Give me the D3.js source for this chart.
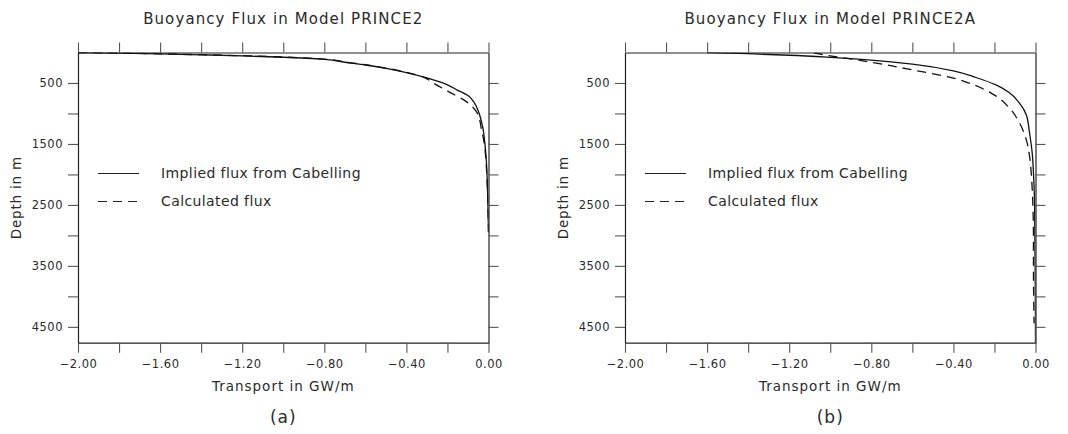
<!DOCTYPE html>
<html><head><meta charset="utf-8">
<script src="https://cdn.jsdelivr.net/npm/d3@7"></script>
<style>
html,body{margin:0;padding:0;background:#fff;}
svg{display:block;font-family:"DejaVu Sans",sans-serif;}
</style></head>
<body>
<svg id="chart" width="1068" height="434"></svg>
<script>
// ---- data ----
const panelTitles = ["Buoyancy Flux in Model PRINCE2", "Buoyancy Flux in Model PRINCE2A"];
const panelLetters = ["(a)", "(b)"];
const seriesNames = ["Implied flux from Cabelling", "Calculated flux"];

// Panel (a) PRINCE2
const p2ImpliedDepth = [0, 10, 22, 38, 55, 78, 112, 160, 205, 260, 330, 418, 530, 620, 705, 820, 960, 1230, 1510, 1800, 2100, 2500, 2950];
const p2ImpliedFlux  = [-2.0, -1.8, -1.6, -1.4, -1.2, -1.0, -0.8, -0.7, -0.6, -0.5, -0.4, -0.3, -0.2, -0.15, -0.1, -0.07, -0.05, -0.028, -0.017, -0.01, -0.006, -0.003, 0];
const p2CalcDepth = [0, 10, 22, 36, 52, 75, 108, 155, 200, 255, 325, 400, 500, 650, 790, 1010, 1230, 1510, 1800, 2100, 2500, 2950];
const p2CalcFlux  = [-2.0, -1.8, -1.6, -1.4, -1.2, -1.0, -0.8, -0.7, -0.6, -0.5, -0.4, -0.32, -0.27, -0.19, -0.115, -0.052, -0.036, -0.02, -0.012, -0.007, -0.003, 0];

// Panel (b) PRINCE2A
const p2aImpliedDepth = [0, 20, 45, 80, 125, 190, 300, 410, 535, 660, 830, 1020, 1320, 1650, 1970, 2400, 3000, 3500, 4000, 4760];
const p2aImpliedFlux  = [-1.6, -1.4, -1.2, -1.0, -0.8, -0.6, -0.4, -0.29, -0.19, -0.127, -0.078, -0.045, -0.029, -0.016, -0.01, -0.005, -0.003, -0.002, -0.001, 0];
const p2aCalcDepth = [5, 55, 105, 160, 285, 420, 545, 720, 910, 1155, 1430, 1700, 1970, 2400, 3000, 3500, 4000, 4440];
const p2aCalcFlux  = [-1.08, -1.0, -0.9, -0.8, -0.6, -0.4, -0.29, -0.19, -0.127, -0.078, -0.045, -0.029, -0.021, -0.014, -0.01, -0.01, -0.009, -0.007];

// axes
const xDomain = [-2.0, 0.0];
const yDomain = [0, 4760];
const xTickValues = [-2.0, -1.8, -1.6, -1.4, -1.2, -1.0, -0.8, -0.6, -0.4, -0.2, 0.0];
const xTickLabels = ["\u22122.00", "", "\u22121.60", "", "\u22121.20", "", "\u22120.80", "", "\u22120.40", "", "0.00"];
const yTickValues = [500, 1000, 1500, 2000, 2500, 3000, 3500, 4000, 4500];
const yTickLabels = ["500", "", "1500", "", "2500", "", "3500", "", "4500"];
const xAxisTitle = "Transport in GW/m";
const yAxisTitle = "Depth in m";

const panels = [
  {title: panelTitles[0], letter: panelLetters[0],
   series: [{depth: p2ImpliedDepth, flux: p2ImpliedFlux, dash: null},
            {depth: p2CalcDepth, flux: p2CalcFlux, dash: "9,6"}]},
  {title: panelTitles[1], letter: panelLetters[1],
   series: [{depth: p2aImpliedDepth, flux: p2aImpliedFlux, dash: null},
            {depth: p2aCalcDepth, flux: p2aCalcFlux, dash: "9,6"}]}
];

// ---- layout ----
const svg = d3.select("#chart");
const plotLefts = [78, 625];
const plotW = 410.5, plotTop = 52.5, plotH = 290.2;
const textCol = "#2a2a2a", tickCol = "#555";

panels.forEach((p, i) => {
  const g = svg.append("g").attr("transform", `translate(${plotLefts[i]},${plotTop})`);
  const x = d3.scaleLinear().domain(xDomain).range([0, plotW]);
  const y = d3.scaleLinear().domain(yDomain).range([0, plotH]);

  const clipId = "clip" + i;
  g.append("clipPath").attr("id", clipId).append("rect")
    .attr("x", 0).attr("y", 0).attr("width", plotW).attr("height", plotH);

  // axes
  const styleAxis = (sel) => {
    sel.select(".domain").attr("stroke", "#222").attr("stroke-width", 1.2);
    sel.selectAll(".tick line").attr("stroke", tickCol).attr("stroke-width", 1.1);
    sel.selectAll(".tick text").attr("fill", textCol).attr("font-size", 11.5)
      .attr("letter-spacing", 0.5).attr("font-family", "DejaVu Sans");
  };
  g.append("g").call(d3.axisTop(x).tickValues(xTickValues).tickSize(10).tickSizeOuter(0).tickFormat(() => ""))
    .call(styleAxis);
  g.append("g").attr("transform", `translate(0,${plotH})`)
    .call(d3.axisBottom(x).tickValues(xTickValues).tickSize(10).tickSizeOuter(0).tickPadding(7)
      .tickFormat((d, k) => xTickLabels[k]))
    .call(styleAxis);
  g.append("g").call(d3.axisLeft(y).tickValues(yTickValues).tickSize(10).tickSizeOuter(0).tickPadding(5)
      .tickFormat((d, k) => yTickLabels[k]))
    .call(styleAxis);
  g.append("g").attr("transform", `translate(${plotW},0)`)
    .call(d3.axisRight(y).tickValues(yTickValues).tickSize(10).tickSizeOuter(0).tickFormat(() => ""))
    .call(styleAxis);

  // lines
  const line = d3.line().x(d => x(d[0])).y(d => y(d[1])).curve(d3.curveMonotoneY);
  p.series.forEach(s => {
    const pts = s.flux.map((f, k) => [f, s.depth[k]]);
    g.append("path").datum(pts)
      .attr("clip-path", `url(#${clipId})`)
      .attr("d", line).attr("fill", "none").attr("stroke", "#111")
      .attr("stroke-width", 1.3)
      .attr("stroke-dasharray", s.dash);
  });

  // legend
  const legY = [121, 149];
  p.series.forEach((s, k) => {
    g.append("line").attr("x1", 20).attr("x2", 61).attr("y1", legY[k]).attr("y2", legY[k])
      .attr("stroke", "#222").attr("stroke-width", 1.2).attr("stroke-dasharray", s.dash);
    g.append("text").attr("x", 83).attr("y", legY[k] + 4.5).text(seriesNames[k])
      .attr("fill", textCol).attr("font-size", 14).attr("letter-spacing", 0.4);
  });

  // titles
  g.append("text").attr("x", plotW / 2).attr("y", 23.5 - plotTop).attr("text-anchor", "middle")
    .text(p.title).attr("fill", textCol).attr("font-size", 15).attr("letter-spacing", 1.1);
  g.append("text").attr("x", plotW / 2).attr("y", 390.5 - plotTop).attr("text-anchor", "middle")
    .text(xAxisTitle).attr("fill", textCol).attr("font-size", 13.5).attr("letter-spacing", 1.0);
  g.append("text").attr("transform", `translate(-57.5,${plotH / 2}) rotate(-90)`)
    .attr("text-anchor", "middle").text(yAxisTitle).attr("fill", textCol)
    .attr("font-size", 13.5).attr("letter-spacing", 0.8);
  g.append("text").attr("x", plotW / 2).attr("y", 423 - plotTop).attr("text-anchor", "middle")
    .text(p.letter).attr("fill", textCol).attr("font-size", 17).attr("letter-spacing", 1);
});
</script>
</body></html>
